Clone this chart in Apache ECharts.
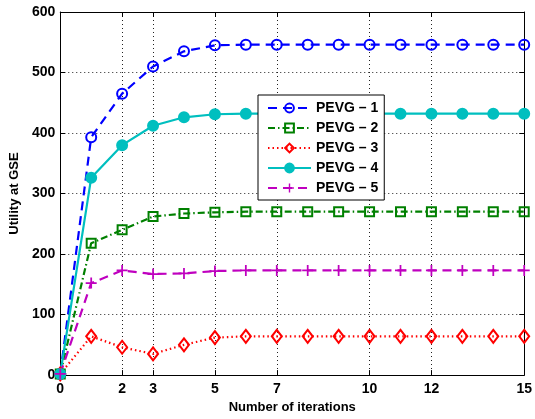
<!DOCTYPE html>
<html><head><meta charset="utf-8">
<script src="https://cdn.jsdelivr.net/npm/echarts@6/dist/echarts.min.js"></script>
<style>html,body{margin:0;padding:0;background:#fff}#c{width:535px;height:419px}</style>
</head><body><div id="c"></div>
<script>
var iterations = ['0','1','2','3','4','5','6','7','8','9','10','11','12','13','14','15'];
var shownTicks = [0,2,3,5,7,10,12,15];
var yTicks = {min:0, max:600, interval:100};
var pevg1 = [2,393,465,510,535,545,546,546,546,546,546,546,546,546,546,546];
var pevg2 = [2,218,240,262,267,269,270,270,270,270,270,270,270,270,270,270];
var pevg3 = [2,64,46,35,50,62,64,64,64,64,64,64,64,64,64,64];
var pevg4 = [2,326,380,412,426,431,432,432,432,432,432,432,432,432,432,432];
var pevg5 = [2,152,173,167,168,172,173,173,173,173,173,173,173,173,173,173];
var names = ['PEVG \u2013 1','PEVG \u2013 2','PEVG \u2013 3','PEVG \u2013 4','PEVG \u2013 5'];

var FONT = 'Liberation Sans';
function tickFn(i){ return shownTicks.indexOf(i) >= 0; }
var chart = echarts.init(document.getElementById('c'), null, {renderer:'canvas'});
var axisLine = {show:true, onZero:false, lineStyle:{color:'#000', width:1}};
var grid = {left:57, right:7, top:12, bottom:38};
function mk(name, data, color, lineType, symbol, size, fill){
  return {
    name:name, type:'line', data:data, symbol:symbol, symbolSize:size,
    showSymbol:true, animation:false,
    lineStyle:{color:color, width:2.2, type:lineType},
    itemStyle:{color:fill, borderColor:color, borderWidth:2},
    emphasis:{disabled:true}
  };
}
var plus = 'path://M4.2,0H5.8V4.2H10V5.8H5.8V10H4.2V5.8H0V4.2H4.2Z';
chart.setOption({
  backgroundColor:'#fff',
  animation:false,
  grid:grid,
  legend:{
    orient:'vertical', left:258, top:95, width:125,
    padding:[6,6,5,9], itemGap:6, itemWidth:43, itemHeight:11,
    borderColor:'#000', borderWidth:1, backgroundColor:'#fff',
    textStyle:{fontFamily:FONT, fontWeight:'bold', fontSize:14, color:'#000', lineHeight:14},
    data:names
  },
  xAxis:[{
    type:'category', data:iterations, boundaryGap:false,
    name:'Number of iterations', nameLocation:'middle', nameGap:22,
    nameTextStyle:{fontFamily:FONT, fontWeight:'bold', fontSize:13, color:'#000'},
    axisLine:axisLine,
    axisTick:{show:true, inside:true, length:5, interval:function(i){return tickFn(i);}, lineStyle:{color:'#000'}},
    axisLabel:{interval:function(i){return tickFn(i);}, margin:7, fontFamily:FONT, fontWeight:'bold', fontSize:14, color:'#000'},
    splitLine:{show:true, interval:function(i){return tickFn(i) && i!==0 && i!==15;}, lineStyle:{color:'#222', type:[1,3], width:1}}
  },{
    type:'category', data:iterations, boundaryGap:false, position:'top',
    axisLine:axisLine,
    axisTick:{show:true, inside:true, length:5, interval:function(i){return tickFn(i);}, lineStyle:{color:'#000'}},
    axisLabel:{show:false}, splitLine:{show:false}
  }],
  yAxis:[{
    type:'value', min:yTicks.min, max:yTicks.max, interval:yTicks.interval,
    name:'Utility at GSE', nameLocation:'middle', nameGap:38,
    nameTextStyle:{fontFamily:FONT, fontWeight:'bold', fontSize:13, color:'#000'},
    axisLine:axisLine,
    axisTick:{show:true, inside:true, length:5, lineStyle:{color:'#000'}},
    axisLabel:{margin:5, fontFamily:FONT, fontWeight:'bold', fontSize:14, color:'#000'},
    splitLine:{show:true, lineStyle:{color:'#222', type:[1,3], width:1}}
  },{
    type:'value', min:yTicks.min, max:yTicks.max, interval:yTicks.interval, position:'right',
    axisLine:axisLine,
    axisTick:{show:true, inside:true, length:5, lineStyle:{color:'#000'}},
    axisLabel:{show:false}, splitLine:{show:false}
  }],
  series:[
    mk(names[0], pevg1, '#0000FF', [9,6], 'circle', 10, 'rgba(255,255,255,0)'),
    mk(names[1], pevg2, '#008000', [7,3,1.5,3], 'rect', 9, 'rgba(255,255,255,0)'),
    mk(names[2], pevg3, '#FF0000', [1.5,3], 'diamond', [10,13], 'rgba(255,255,255,0)'),
    mk(names[3], pevg4, '#00BFBF', 'solid', 'circle', 10, '#00BFBF'),
    (function(){var s=mk(names[4], pevg5, '#BF00BF', [9,6], plus, 11, '#BF00BF'); s.itemStyle.borderWidth=0; return s;})()
  ]
});
</script></body></html>
